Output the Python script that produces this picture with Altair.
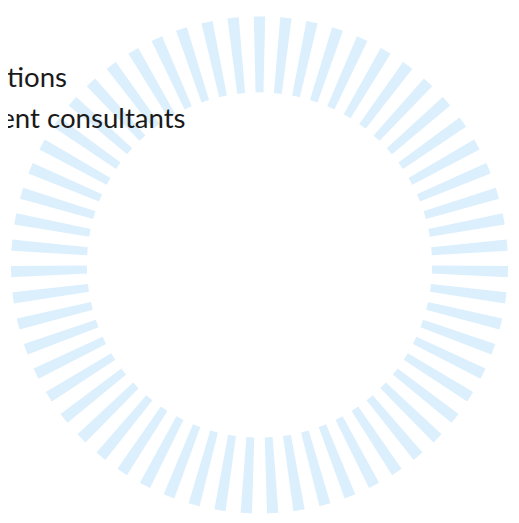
import math
import altair as alt
import pandas as pd

# ---- data ----
n_spokes = 59
spoke_ids = list(range(n_spokes))
spoke_share = 0.43  # fraction of each angular slot covered by a spoke

legend_labels = ["IT and outsourced services", "Confederations", "Management consultants"]
legend_lines = [0, 2, 3]

spoke_df = pd.DataFrame({"spoke": spoke_ids})
legend_df = pd.DataFrame({"label": legend_labels, "line": legend_lines})

half = spoke_share / 2

spokes = alt.Chart(spoke_df).transform_calculate(
    a0=f"datum.spoke - {half}",
    a1=f"datum.spoke + {half}",
).mark_arc(innerRadius=175, outerRadius=252, color="#dcefFD").encode(
    theta=alt.Theta("a0:Q", stack=None,
                    scale=alt.Scale(domain=[0, n_spokes], range=[0, 2 * math.pi])),
    theta2="a1:Q",
    x=alt.value(255),
    y=alt.value(257),
)

text = alt.Chart(legend_df).mark_text(
    align="left", baseline="alphabetic", font="Lato", fontSize=28, color="#1a1a1a"
).encode(
    text="label:N",
    x=alt.value(-129),
    y=alt.Y("line:Q", scale=alt.Scale(domain=[0, 3], range=[-6, 118]), axis=None),
)

chart = alt.layer(spokes, text).properties(
    width=510, height=508,
    autosize=alt.AutoSizeParams(type="none"),
    padding=0,
).configure_view(stroke=None)

chart.save("out.html", embed_options={"renderer": "svg", "actions": False})
